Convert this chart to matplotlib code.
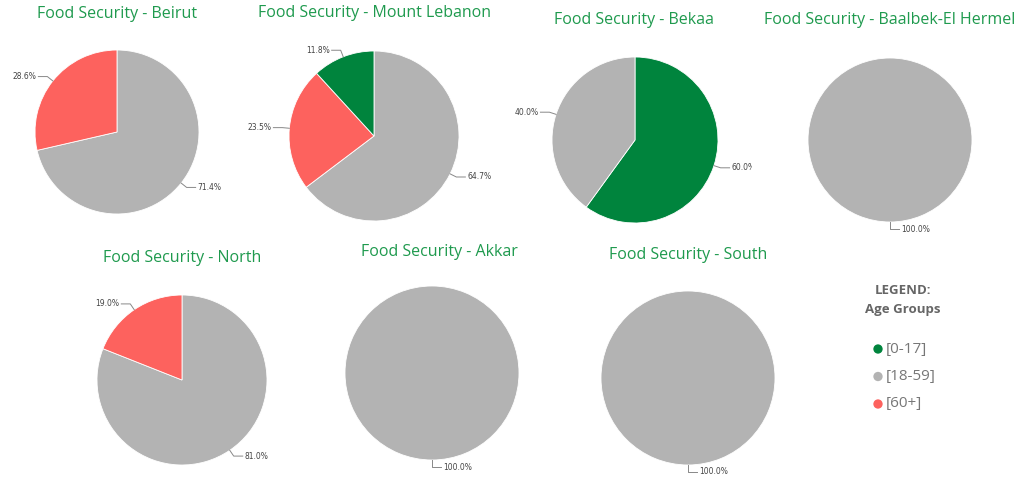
import numpy as np
import matplotlib.pyplot as plt
from matplotlib.patches import Rectangle

# share of each age group per region (%)
regions = ['Beirut', 'Mount Lebanon', 'Bekaa', 'Baalbek-El Hermel', 'North', 'Akkar', 'South']
age_0_17 = [0, 11.8, 60.0, 0, 0, 0, 0]
age_18_59 = [71.4, 64.7, 40.0, 100.0, 81.0, 100.0, 100.0]
age_60_plus = [28.6, 23.5, 0, 0, 19.0, 0, 0]
groups = ['[0-17]', '[18-59]', '[60+]']
colors = ['#00843D', '#B3B3B3', '#FD625E']

# layout in pixels (x, y from top): pie centre, radius, title centre
W, H = 1026, 487
pie_pos = [(117, 132, 82), (374, 136, 85), (635, 140, 83), (890, 140, 82),
           (182, 380, 85), (432, 373, 87), (688, 378, 87)]
title_pos = [(117, 14), (374, 13), (634, 20), (890, 20),
             (182, 258), (439, 252), (688, 255)]

title_color = '#1F9A4E'
label_color = '#444444'

fig = plt.figure(figsize=(W / 100, H / 100), dpi=100)
ax = fig.add_axes([0, 0, 1, 1])


def Y(py):
    return H - py


for i, name in enumerate(regions):
    cx, cy, r = pie_pos[i]
    vals = [age_0_17[i], age_18_59[i], age_60_plus[i]]
    items = sorted([(v, c) for v, c in zip(vals, colors) if v > 0], key=lambda t: -t[0])
    wedges, _ = ax.pie([v for v, _ in items], colors=[c for _, c in items],
                       startangle=90, counterclock=False,
                       center=(cx, Y(cy)), radius=r,
                       wedgeprops=dict(linewidth=0.6, edgecolor='white'))
    for w, (v, c) in zip(wedges, items):
        ang = np.deg2rad((w.theta1 + w.theta2) / 2)
        ca, sa = np.cos(ang), np.sin(ang)
        if abs(ca) < 1e-6:
            side = 1
        else:
            side = 1 if ca > 0 else -1
        x0, y0 = cx + r * ca, Y(cy) + r * sa
        x1, y1 = cx + (r + 7) * ca, Y(cy) + (r + 7) * sa
        x2 = x1 + side * 9
        ax.plot([x0, x1, x2], [y0, y1, y1], color='#888888', lw=0.7)
        t = ax.text(x2 + side * 2, y1, '%.1f%%' % v, fontsize=5.5, color=label_color,
                    ha='left' if side > 0 else 'right', va='center')
        if name == 'Bekaa':
            # the visual cuts off the right-hand label
            clip = Rectangle((0, 0), 752, H, transform=ax.transData)
            t.set_clip_path(clip)
            t.set_clip_on(True)

    tx, ty = title_pos[i]
    ax.text(tx, Y(ty), 'Food Security - ' + name, fontsize=11.5, color=title_color,
            family='Open Sans', ha='center', va='center')

# legend
ax.text(903, Y(290), 'LEGEND:', fontsize=9.5, fontweight='bold', color='#666666',
        family='Open Sans', ha='center', va='center')
ax.text(903, Y(309), 'Age Groups', fontsize=9.5, fontweight='bold', color='#666666',
        family='Open Sans', ha='center', va='center')
for k, (g, c) in enumerate(zip(groups, colors)):
    yy = Y(349 + k * 27.5)
    ax.scatter([878], [yy], s=45, color=c, edgecolors='none')
    ax.text(886, yy, g, fontsize=11, color='#777777', family='Open Sans',
            ha='left', va='center')

ax.set_xlim(0, W)
ax.set_ylim(0, H)
ax.set_aspect('equal')
ax.axis('off')

fig.savefig('out.png', dpi=100, facecolor='white')
